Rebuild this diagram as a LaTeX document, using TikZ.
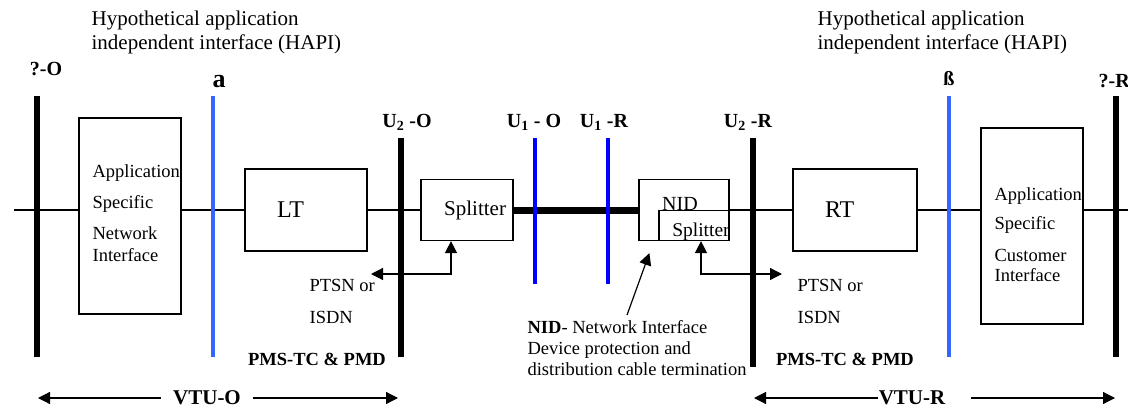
\documentclass[tikz,border=0pt]{standalone}
\usepackage{fontspec}
\setmainfont{Liberation Serif}
\usetikzlibrary{arrows.meta,positioning}
\definecolor{hapiblue}{RGB}{51,102,255}

\begin{document}
\begin{tikzpicture}[x=1pt, y=-1pt, line width=1.2pt,
	every node/.style={font=\fontsize{18.5}{21}\selectfont},
	>={Triangle[length=12pt,width=12pt]},
	box/.style={draw, fill=white, inner sep=0pt},
	txt/.style={inner sep=0pt, align=left},
	lab/.style={font=\fontsize{20}{24}\selectfont\bfseries, inner sep=0pt},
	vtu/.style={font=\fontsize{21}{24}\selectfont\bfseries, inner xsep=12pt}]
	\useasboundingbox (0,0) rectangle (1128,410);
	% boxes on the line
	\node[box, minimum width=102pt, minimum height=196pt] (appL) at (130,216) {};
	\node[box, text width=58pt, inner xsep=32pt, minimum height=82pt, align=left,
		font=\fontsize{24}{28}\selectfont] (lt) at (306,210) {LT};
	\node[box, text width=78pt, inner xsep=7pt, minimum height=61pt, align=right,
		font=\fontsize{21}{24}\selectfont] (split) at (467,210) {Splitter};
	\node[box, minimum width=90pt, minimum height=61pt] (nid) at (684,210) {};
	\node[box, minimum width=70pt, minimum height=30pt] (nidsp) at (694,225.5) {};
	\node[box, text width=60pt, inner xsep=32pt, minimum height=82pt, align=left,
		font=\fontsize{24}{28}\selectfont] (rt) at (855,210) {RT};
	\node[box, minimum width=102pt, minimum height=196pt] (appR) at (1032,226) {};
	% texts in the boxes
	\node[txt, anchor=north west] (appLtxt) at (92,164)
		{Application\\[10.5pt]Specific\\[9.5pt]Network\\[1pt]Interface};
	\node[txt, anchor=north west] (appRtxt) at (994,187)
		{Application\\[8pt]Specific\\[11pt]Customer\\[-1pt]Interface};
	\node[font=\fontsize{20}{24}\selectfont, inner sep=0pt] (nidtxt) at (680,204) {NID};
	\node[font=\fontsize{19.5}{24}\selectfont, inner sep=0pt] (nidsptxt) at (701,232) {Splitter};
	% main line
	\coordinate (lineL) at (14,210);
	\coordinate (lineR) at (1128,210);
	\draw (lineL) -- (lineL -| appL.west);
	\draw (lineL -| appL.east) -- (lt.west);
	\draw (lt.east) -- (split.west);
	\draw[line width=7pt] (split.east) -- (nid.west);
	\draw (nid.east) -- (rt.west);
	\draw (rt.east) -- (lineR -| appR.west);
	\draw (lineR -| appR.east) -- (lineR);
	% reference points
	\foreach \x/\t/\b in {37/96/357, 401/138/357, 753/138/367, 1116/96/357}
		\draw[line width=5.5pt] (\x,\t) -- (\x,\b);
	\foreach \x in {213, 949}
		\draw[hapiblue, line width=4.5pt] (\x,96) -- (\x,357);
	\foreach \x in {535, 608}
		\draw[blue, line width=4.3pt] (\x,138) -- (\x,284);
	\node[lab, anchor=base] (vo) at (46,75) {?-O};
	\node[lab, anchor=base, font=\fontsize{26}{30}\selectfont\bfseries] (alpha) at (219,87) {a};
	\node[lab, anchor=base] (u2o) at (407,127) {U\textsubscript{2} -O};
	\node[lab, anchor=base] (u1o) at (534,127) {U\textsubscript{1} - O};
	\node[lab, anchor=base] (u1r) at (604,127) {U\textsubscript{1} -R};
	\node[lab, anchor=base] (u2r) at (748,127) {U\textsubscript{2} -R};
	\node[lab, anchor=base] (beta) at (949,85) {ß};
	\node[lab, anchor=base west] (vr) at (1098,87) {?-R};
	% HAPI
	\node[txt, anchor=north west, font=\fontsize{21}{24}\selectfont] (hapiL) at (91,10)
		{Hypothetical application\\independent interface (HAPI)};
	\node[txt, anchor=north west, font=\fontsize{21}{24}\selectfont] (hapiR) at (817,10)
		{Hypothetical application\\independent interface (HAPI)};
	% PTSN / ISDN
	\node[txt, anchor=north west, font=\fontsize{18.5}{32}\selectfont] (ptsnL) at (309,279) {PTSN or\\ISDN};
	\node[txt, anchor=north west, font=\fontsize{18.5}{32}\selectfont] (ptsnR) at (797,279) {PTSN or\\ISDN};
	\coordinate (ptsnLend) at (371,274);
	\coordinate (ptsnRend) at (782,274);
	\draw[<->] (ptsnLend) -| ([xshift=-16pt]split.south);
	\draw[<->] ([xshift=7pt]nidsp.south) |- (ptsnRend);
	\node[lab, anchor=base, font=\fontsize{18.5}{21}\selectfont\bfseries] (pmsL) at (317,365) {PMS-TC \& PMD};
	\node[lab, anchor=base, font=\fontsize{18.5}{21}\selectfont\bfseries] (pmsR) at (845,365) {PMS-TC \& PMD};
	% NID note
	\node[txt, anchor=north west] (nidnote) at (527,320)
		{\textbf{NID}- Network Interface\\Device protection and\\distribution cable termination};
	\draw[->] ([xshift=-10pt, yshift=5pt]nidnote.north) -- ([shift={(11,12)}]nid.south west);
	% VTU extents
	\node[vtu] (vtuo) at (207,398) {VTU-O};
	\coordinate (vtuoL) at (38,398);
	\coordinate (vtuoR) at (398,398);
	\draw[->] (vtuo.west) -- (vtuoL);
	\draw[->] (vtuo.east) -- (vtuoR);
	\node[vtu] (vtur) at (912,398) {VTU-R};
	\coordinate (vturL) at (754,398);
	\coordinate (vturR) at (1115,398);
	\draw[->] ([xshift=12pt]vtur.west) -- (vturL);
	\draw[->] ([xshift=13pt]vtur.east) -- (vturR);
\end{tikzpicture}
\end{document}
